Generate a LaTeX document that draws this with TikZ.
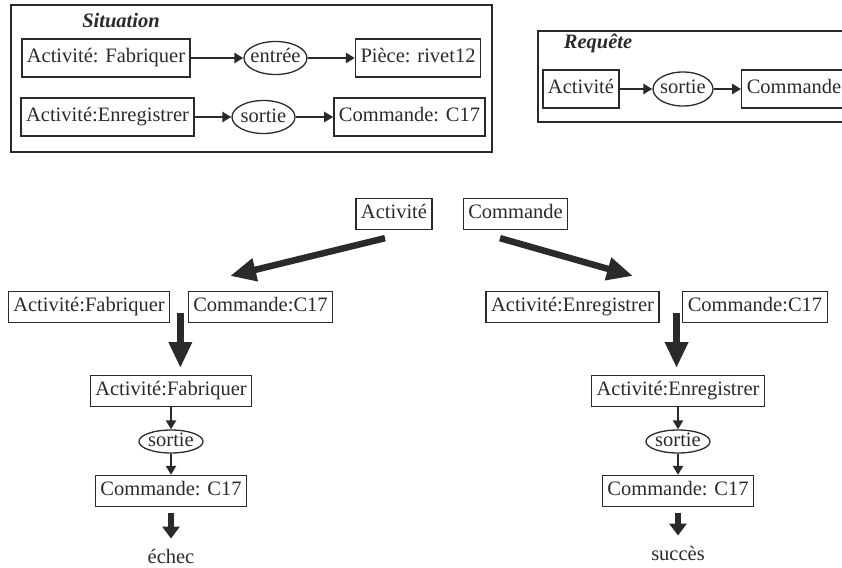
\documentclass[tikz,border=0pt]{standalone}
\usepackage{fontspec}
\setmainfont{Liberation Serif}
\usetikzlibrary{shapes.geometric,arrows.meta}
\definecolor{ink}{HTML}{2A2A2A}

\begin{document}
\begin{tikzpicture}[x=1pt,y=-1pt,color=ink,
  font=\fontsize{20.5}{24}\selectfont,
  box/.style={draw,line width=1.3pt,inner xsep=5pt,inner ysep=0pt,text height=14pt,text depth=4.5pt,minimum height=31pt},
  bigbox/.style={box,minimum height=38pt},
  oval/.style={draw,ellipse,line width=1.3pt,inner sep=0pt,text height=10pt,text depth=0pt,minimum width=63pt,minimum height=33pt},
  smalloval/.style={oval,minimum width=64pt,minimum height=23pt},
  title/.style={font=\fontsize{20.5}{24}\selectfont\bfseries\itshape,text height=14pt,text depth=4.5pt},
  result/.style={inner sep=2pt,text height=14pt,text depth=4.5pt},
  frame/.style={line width=1.5pt},
  link/.style={line width=2.6pt,-{Triangle[length=9pt,width=10pt]}},
  bigarrow/.style={line width=6.5pt,-{Triangle[length=26pt,width=22pt]}},
  stub/.style={line width=6.5pt,-{Triangle[length=12pt,width=17pt]},shorten <=6pt,shorten >=9pt}]
\useasboundingbox (0,0) rectangle (842,567);
\clip (0,0) rectangle (842,567);

\draw[frame] (11,5) rectangle (492,152);
\node[title] (sit) at (121,23) {Situation};
\node[bigbox] (fab0) at (106,58) {Activité: Fabriquer};
\node[oval] (inp) at (275.5,58) {\makebox[0pt]{entrée}};
\node[bigbox] (piece) at (418,58) {Pièce: rivet12};
\node[bigbox] (enr0) at (107.5,117) {Activité:Enregistrer};
\node[oval] (out0) at (263.5,117) {\makebox[0pt]{sortie}};
\node[bigbox] (cmd0) at (409.5,117) {Commande: C17};
\draw[link] (fab0) -- (inp);
\draw[link] (inp) -- (piece);
\draw[link] (enr0) -- (out0);
\draw[link] (out0) -- (cmd0);

\draw[frame] (850,31) -| (538,122) -- (850,122);
\node[title] (req) at (598,44) {Requête};
\node[bigbox] (qact) at (581,89) {Activité};
\node[oval,minimum width=60pt,minimum height=34pt] (qout) at (683,89) {\makebox[0pt]{sortie}};
\node[bigbox] (qcmd) at (794,89) {Commande};
\draw[link] (qact) -- (qout);
\draw[link] (qout) -- (qcmd);

\node[box] (act) at (394,214) {Activité};
\node[box] (cmd) at (515.5,214) {Commande};
\coordinate (tipL) at (230,276);
\coordinate (tipR) at (633,276);
\draw[bigarrow] (act.south) ++(-9,8) -- (tipL);
\draw[bigarrow] (cmd.south) ++(-15.5,8) -- (tipR);

\node[box] (fab1) at (89,307) {Activité:Fabriquer};
\node[box] (cmd1) at (260.5,307) {Commande:C17};
\node[box] (enr1) at (572.5,307) {Activité:Enregistrer};
\node[box] (cmd2) at (755,307) {Commande:C17};
\draw[bigarrow] (fab1.east) ++(10,6) -- ++(0,55);
\draw[bigarrow] (enr1.east) ++(17,6) -- ++(0,55);

\node[box] (fab2) at (171,391) {Activité:Fabriquer};
\node[smalloval] (out1) at (171,441.5) {\makebox[0pt]{sortie}};
\node[box] (cmd3) at (171,491) {Commande: C17};
\node[result] (fail) at (171,559) {échec};
\draw[link,line width=2.2pt] (fab2) -- (out1);
\draw[link,line width=2.2pt] (out1) -- (cmd3);
\draw[stub] (cmd3) -- (fail);

\node[box] (enr2) at (678,391) {Activité:Enregistrer};
\node[smalloval] (out2) at (678,441.5) {\makebox[0pt]{sortie}};
\node[box] (cmd4) at (678,491) {Commande: C17};
\node[result] (succ) at (678,556) {succès};
\draw[link,line width=2.2pt] (enr2) -- (out2);
\draw[link,line width=2.2pt] (out2) -- (cmd4);
\draw[stub] (cmd4) -- (succ);
\end{tikzpicture}
\end{document}
